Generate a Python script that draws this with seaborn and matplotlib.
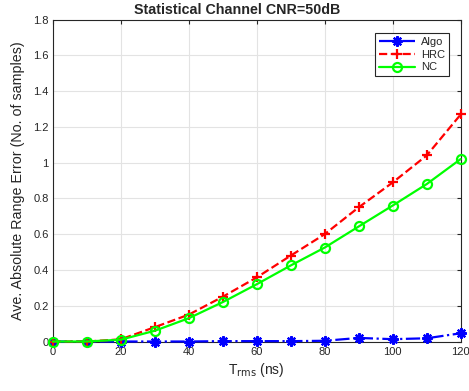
import numpy as np
import pandas as pd
import seaborn as sns
from matplotlib import pyplot as plt
from matplotlib.ticker import FormatStrFormatter

t_rms = [0, 10, 20, 30, 40, 50, 60, 70, 80, 90, 100, 110, 120]
algo = [0, 0, 0, 0, 0, 0.002, 0.002, 0.002, 0.004, 0.02, 0.013, 0.018, 0.046]
hrc = [0, 0, 0.012, 0.08, 0.15, 0.25, 0.358, 0.48, 0.6, 0.75, 0.889, 1.04, 1.269]
nc = [0, 0, 0.01, 0.06, 0.13, 0.22, 0.32, 0.425, 0.525, 0.643, 0.76, 0.88, 1.02]

sns.set_style('whitegrid')
plt.rcParams['font.family'] = ['Liberation Sans', 'DejaVu Sans']

W, H = 469, 391
fig = plt.figure(figsize=(W / 100, H / 100), dpi=100)
x0, x1, y0, y1 = 52.7, 460.7, 19.5, 341.5
ax = fig.add_axes([x0 / W, 1 - y1 / H, (x1 - x0) / W, (y1 - y0) / H])

styles = [
    ('Algo', algo, 'blue', '-.', (8, 2, 0)),
    ('HRC', hrc, 'red', '--', '+'),
    ('NC', nc, (0, 1, 0), '-', 'o'),
]
for name, vals, col, ls, mk in styles:
    df = pd.DataFrame({'t': t_rms, 'v': vals})
    sns.lineplot(data=df, x='t', y='v', ax=ax, color=col, linestyle=ls, linewidth=1.6,
                 marker=mk, markersize=7.5 if mk != 'o' else 6.5, markeredgewidth=1.6,
                 markerfacecolor='none' if mk == 'o' else col,
                 markeredgecolor=col, label=name, clip_on=False, zorder=3)

ax.set_xlim(0, 120)
ax.set_ylim(0, 1.8)
ax.set_xticks(np.arange(0, 121, 20))
ax.set_yticks(np.arange(0, 1.81, 0.2))
ax.yaxis.set_major_formatter(FormatStrFormatter('%g'))
ax.tick_params(direction='in', length=3, labelsize=8, colors='#262626', top=True, right=True,
               pad=3)
ax.tick_params(axis='x', pad=4)
ax.grid(True, color='#e3e3e3', linewidth=0.8)
for s in ax.spines.values():
    s.set_edgecolor('#262626')
    s.set_linewidth(0.8)

ax.set_xlabel(r'T$_{\rm rms}$ (ns)', fontsize=10, color='#262626', labelpad=3)
ax.set_ylabel('Ave. Absolute Range Error (No. of samples)', fontsize=10.3, color='#262626',
              labelpad=6)
ax.set_title('Statistical Channel CNR=50dB', fontsize=10.3, fontweight='bold', pad=4,
             x=(237.5 - x0) / (x1 - x0))

leg = ax.legend(loc='upper right', fontsize=8, frameon=True, fancybox=False,
                edgecolor='#262626', framealpha=1, handlelength=3.3, handletextpad=0.5,
                borderpad=0.35, labelspacing=0.25, borderaxespad=0,
                bbox_to_anchor=((449 - x0) / (x1 - x0), 1 - (33 - y0) / (y1 - y0)))
leg.get_frame().set_linewidth(0.8)

fig.savefig('out.png', dpi=100)
